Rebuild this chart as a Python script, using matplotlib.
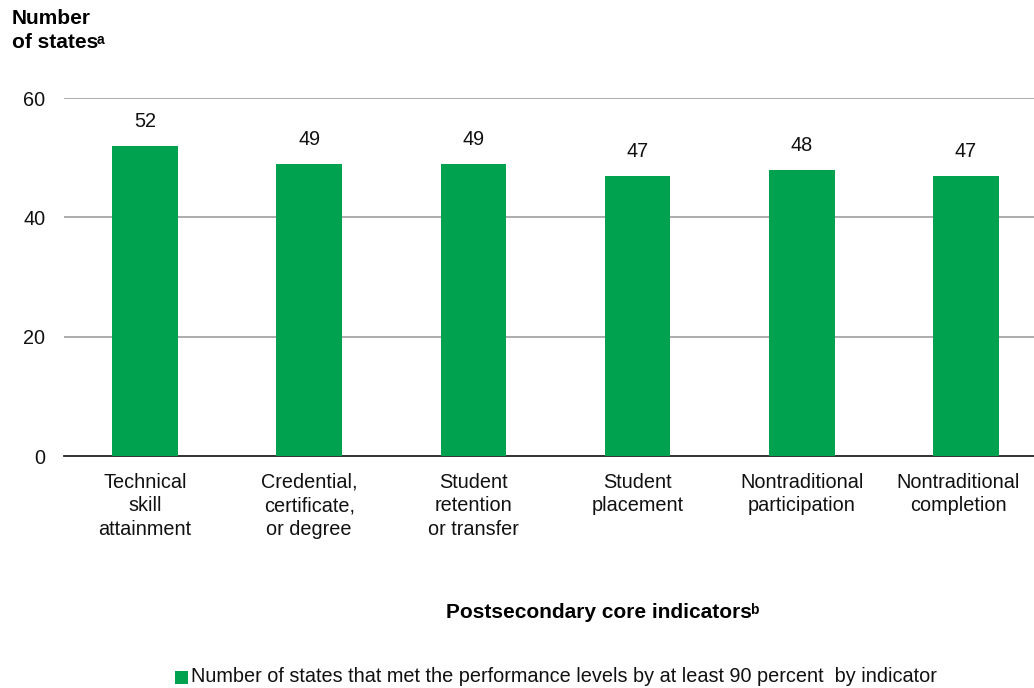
import matplotlib
matplotlib.use("Agg")
import matplotlib.pyplot as plt
from matplotlib.patches import Rectangle
from matplotlib.transforms import ScaledTranslation

plt.rcParams['font.family'] = ['Liberation Sans', 'DejaVu Sans']

categories = ["Technical\nskill\nattainment",
              "Credential,\ncertificate,\nor degree",
              "Student\nretention\nor transfer",
              "Student\nplacement",
              "Nontraditional\nparticipation",
              "Nontraditional\ncompletion"]
values = [52, 49, 49, 47, 48, 47]
yticks = [0, 20, 40, 60]
legend_label = "Number of states that met the performance levels by at least 90 percent  by indicator"

green = "#00A14F"
W, H = 1034, 688
fig = plt.figure(figsize=(W / 100, H / 100), dpi=100)
ax = fig.add_axes([64 / W, (H - 456) / H, 1 - 64 / W, (456 - 98) / H])

x = list(range(len(categories)))
ax.bar(x, values, width=0.40, color=green, zorder=3)
for xi, v in zip(x, values):
    ax.text(xi, v + 2.4, str(v), ha='center', va='bottom', fontsize=14.3, color='#111111')

ax.set_xlim(-0.493, 5.414)
ax.set_ylim(0, 60)
ax.set_yticks(yticks)
ax.set_yticklabels([str(t) for t in yticks], fontsize=14.3)
ax.set_xticks(x)
ax.set_xticklabels(categories, fontsize=14.3, linespacing=1.32)
ax.tick_params(axis='both', length=0, colors='#111111')
ax.tick_params(axis='y', pad=13.5)
ax.tick_params(axis='x', pad=12)
# keep the last category label inside the canvas
last = ax.get_xticklabels()[-1]
last.set_transform(last.get_transform() + ScaledTranslation(-8 / 100, 0, fig.dpi_scale_trans))
for yt in yticks[1:]:
    ax.axhline(yt, color='#A6A6A6', lw=1.3, zorder=1)
for s in ['top', 'right', 'left']:
    ax.spines[s].set_visible(False)
ax.spines['bottom'].set_color('#222222')
ax.spines['bottom'].set_linewidth(1.3)


def text_with_note(xf, yf, main, note, ha, size):
    """Bold text followed by a small superscript footnote letter."""
    t = fig.text(xf, yf, main, fontsize=size, fontweight='bold', va='center', ha=ha)
    if ha == 'center':
        # shift so that text + note is centred at xf
        t.set_x(xf - 4 / W)
    fig.canvas.draw()
    bb = t.get_window_extent()
    fig.text((bb.x1 - 2) / W, (bb.y1 - 1) / H, note, fontsize=size * 0.66,
             fontweight='bold', va='top', ha='left')


fig.text(12 / W, 1 - 18 / H, "Number", fontsize=15, fontweight='bold', va='center', ha='left')
text_with_note(12 / W, 1 - 42 / H, "of states", "a", 'left', 15)
text_with_note(603 / W, 1 - 612 / H, "Postsecondary core indicators", "b", 'center', 15)

fig.patches.append(Rectangle((175 / W, 1 - 684 / H), 13 / W, 13 / H, transform=fig.transFigure,
                             facecolor=green, edgecolor='none'))
leg = fig.text(191 / W, 1 - 677 / H, legend_label, fontsize=14, va='center', ha='left',
               color='#111111')
fig.canvas.draw()
width = leg.get_window_extent().width
if width > 0:
    leg.set_fontsize(14 * (940 - 191) / width)

fig.savefig("out.png", dpi=100)
